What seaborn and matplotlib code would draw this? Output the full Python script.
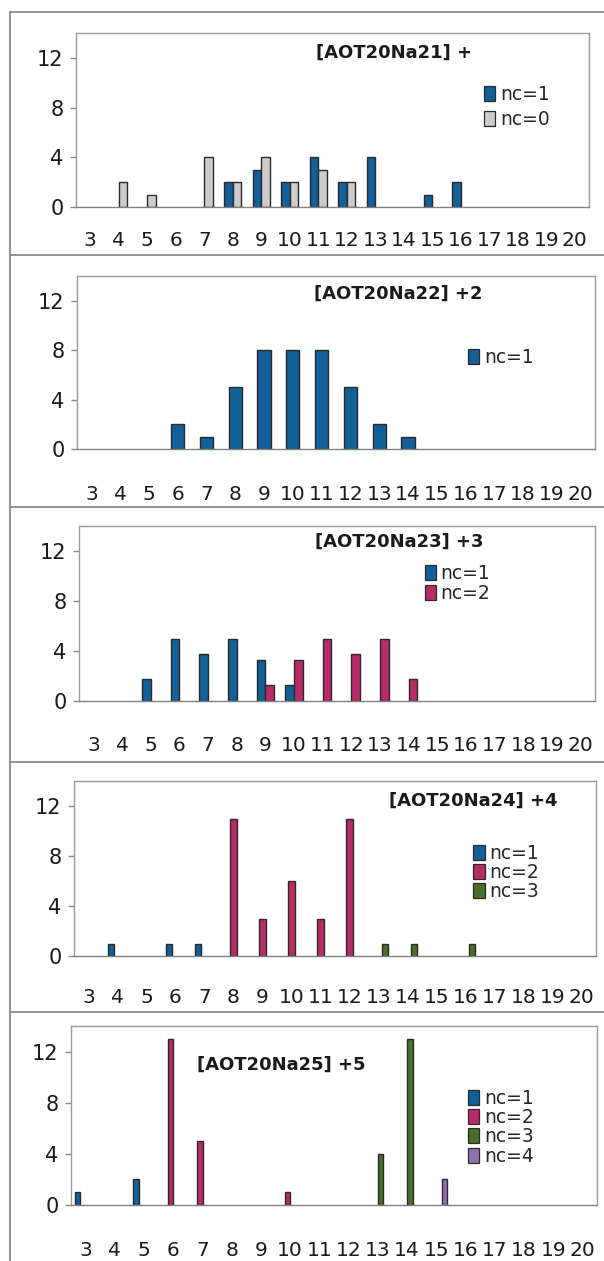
import numpy as np
import pandas as pd
import matplotlib
matplotlib.use('Agg')
import matplotlib.pyplot as plt
import seaborn as sns
from matplotlib.lines import Line2D

sns.set_theme(style='white')
plt.rcParams['font.family'] = ['DejaVu Sans']

# ---------------- data ----------------
categories = [str(c) for c in range(3, 21)]
yticks = [0, 4, 8, 12]

#          3  4  5     6  7     8  9     10    11 12    13 14    15 16 17 18 19 20
p1_nc1 = [0, 0, 0,    0, 0,    2, 3,    2,    4, 2,    4, 0,    1, 2, 0, 0, 0, 0]
p1_nc0 = [0, 2, 1,    0, 4,    2, 4,    2,    3, 2,    0, 0,    0, 0, 0, 0, 0, 0]
p2_nc1 = [0, 0, 0,    2, 1,    5, 8,    8,    8, 5,    2, 1,    0, 0, 0, 0, 0, 0]
p3_nc1 = [0, 0, 1.75, 5, 3.75, 5, 3.25, 1.25, 0, 0,    0, 0,    0, 0, 0, 0, 0, 0]
p3_nc2 = [0, 0, 0,    0, 0,    0, 1.25, 3.25, 5, 3.75, 5, 1.75, 0, 0, 0, 0, 0, 0]
p4_nc1 = [0, 1, 0,    1, 1,    0, 0,    0,    0, 0,    0, 0,    0, 0, 0, 0, 0, 0]
p4_nc2 = [0, 0, 0,    0, 0,    11, 3,   6,    3, 11,   0, 0,    0, 0, 0, 0, 0, 0]
p4_nc3 = [0, 0, 0,    0, 0,    0, 0,    0,    0, 0,    1, 1,    0, 1, 0, 0, 0, 0]
p5_nc1 = [1, 0, 2,    0, 0,    0, 0,    0,    0, 0,    0, 0,    0, 0, 0, 0, 0, 0]
p5_nc2 = [0, 0, 0,    13, 5,   0, 0,    1,    0, 0,    0, 0,    0, 0, 0, 0, 0, 0]
p5_nc3 = [0, 0, 0,    0, 0,    0, 0,    0,    0, 0,    4, 13,   0, 0, 0, 0, 0, 0]
p5_nc4 = [0, 0, 0,    0, 0,    0, 0,    0,    0, 0,    0, 0,    2, 0, 0, 0, 0, 0]

titles = ['[AOT20Na21] +', '[AOT20Na22] +2', '[AOT20Na23] +3',
          '[AOT20Na24] +4', '[AOT20Na25] +5']
panel_series = [
    [('nc=1', p1_nc1), ('nc=0', p1_nc0)],
    [('nc=1', p2_nc1)],
    [('nc=1', p3_nc1), ('nc=2', p3_nc2)],
    [('nc=1', p4_nc1), ('nc=2', p4_nc2), ('nc=3', p4_nc3)],
    [('nc=1', p5_nc1), ('nc=2', p5_nc2), ('nc=3', p5_nc3), ('nc=4', p5_nc4)],
]

colors = {'nc=1': '#135f98', 'nc=0': '#cccccc', 'nc=2': '#b82a68',
          'nc=3': '#4a6e2c', 'nc=4': '#9070b0'}

# ---------------- layout (pixels) ----------------
W, H = 604, 1261
layout = [
    dict(box=(76, 589, 33, 207), width=0.60, title_xy=(0.62, 0.885),
         leg_xy=(0.795, 0.575), lspace=0.3, xpad=17),
    dict(box=(77, 595, 276, 449), width=0.46, title_xy=(0.62, 0.90),
         leg_xy=(0.755, 0.53), lspace=0.1, xpad=26),
    dict(box=(79, 595, 526, 701), width=0.60, title_xy=(0.62, 0.91),
         leg_xy=(0.67, 0.674), lspace=0.05, xpad=25),
    dict(box=(74, 596, 781, 956), width=0.68, title_xy=(0.765, 0.886),
         leg_xy=(0.765, 0.477), lspace=0.02, xpad=23),
    dict(box=(71, 597, 1026, 1205), width=0.76, title_xy=(0.40, 0.786),
         leg_xy=(0.755, 0.435), lspace=0.02, xpad=26),
]

fig = plt.figure(figsize=(W / 100, H / 100), dpi=100)
fig.patch.set_facecolor('white')

frame_col = '#8a8a8a'
for i, (title, series, lay) in enumerate(zip(titles, panel_series, layout)):
    l, r, t, b = lay['box']
    ax = fig.add_axes([l / W, 1 - b / H, (r - l) / W, (b - t) / H])
    rows = []
    for name, vals in series:
        for c, v in zip(categories, vals):
            if v > 0:
                rows.append({'cat': c, 'val': v, 'nc': name})
    df = pd.DataFrame(rows)
    hue_order = [s[0] for s in series]
    sns.barplot(data=df, x='cat', y='val', hue='nc', order=categories,
                hue_order=hue_order, palette=colors, saturation=1,
                width=lay['width'], dodge=True, edgecolor='#2a2a2a',
                linewidth=1.0, ax=ax, errorbar=None)
    ax.set_xlim(-0.5, len(categories) - 0.5)
    ax.set_ylim(0, 14)
    ax.set_xlabel('')
    ax.set_ylabel('')
    ax.set_yticks(yticks)
    ax.set_yticklabels([str(v) for v in yticks], fontsize=15, color='#1a1a1a')
    ax.set_xticks(range(len(categories)))
    ax.set_xticklabels(categories, fontsize=14.5, color='#1a1a1a')
    ax.set_xticks(np.arange(0.5, len(categories), 1), minor=True)
    ax.tick_params(axis='x', which='major', length=0, pad=lay['xpad'])
    ax.tick_params(axis='x', which='minor', length=6, width=1,
                   color='#777777', direction='out')
    ax.tick_params(axis='y', which='major', length=4, width=1,
                   color='#888888', direction='out', left=True, pad=5)
    for sp in ax.spines.values():
        sp.set_visible(True)
        sp.set_color('#9a9a9a')
        sp.set_linewidth(1.0)
    ax.spines['bottom'].set_color('#808080')
    ax.grid(False)
    ax.set_facecolor('white')

    ax.text(lay['title_xy'][0], lay['title_xy'][1], title, transform=ax.transAxes,
            ha='center', va='center', fontsize=13, fontweight='bold', color='#1a1a1a')

    leg = ax.get_legend()
    handles = list(leg.legend_handles)
    labels = [tx.get_text() for tx in leg.get_texts()]
    leg.remove()
    for h in handles:
        h.set_edgecolor('#2a2a2a')
        h.set_linewidth(0.9)
    ax.legend(handles, labels, loc='center left', bbox_to_anchor=lay['leg_xy'],
              frameon=False, fontsize=13.5, handlelength=0.6, handleheight=0.85,
              handletextpad=0.25, labelspacing=lay['lspace'], borderpad=0,
              borderaxespad=0)

# outer frame and panel dividers
fig.add_artist(Line2D([10 / W, 10 / W], [0, 1 - 12 / H], transform=fig.transFigure,
                      color=frame_col, lw=1.3))
for yy in [12, 255, 507, 762, 1012]:
    fig.add_artist(Line2D([10 / W, 1], [1 - yy / H, 1 - yy / H],
                          transform=fig.transFigure, color=frame_col, lw=1.3))

fig.savefig('out.png', dpi=100, facecolor='white')
